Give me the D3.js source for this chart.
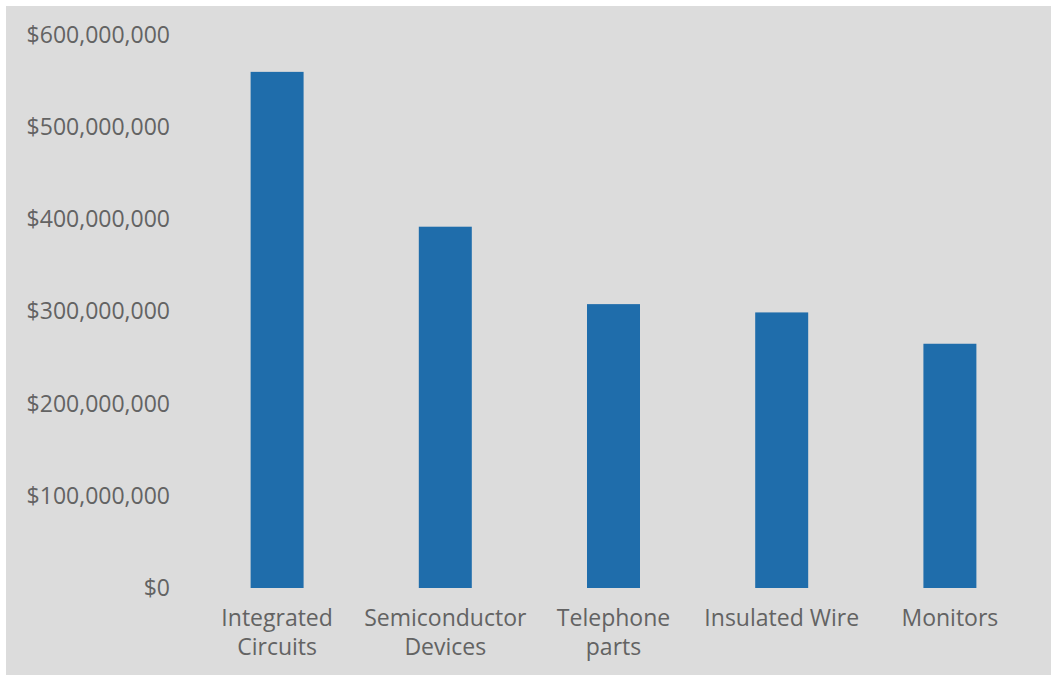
<!DOCTYPE html>
<html><head><meta charset="utf-8">
<script src="https://cdn.jsdelivr.net/npm/d3@7"></script>
<style>
html,body{margin:0;padding:0;background:#fff;}
svg{display:block;}
</style></head>
<body>
<script>
const categories = [["Integrated","Circuits"],["Semiconductor","Devices"],["Telephone","parts"],["Insulated Wire"],["Monitors"]];
const values = [560000000, 392000000, 308000000, 299000000, 265000000];
const yTicks = [0,100000000,200000000,300000000,400000000,500000000,600000000];

const W = 1051, H = 675;
const svg = d3.select("body").append("svg").attr("width", W).attr("height", H);
svg.append("rect").attr("x",6).attr("y",6).attr("width",1045).attr("height",669).attr("fill","#dcdcdc");

const margin = {left:193, right:1034, top:35, bottom:588};
const keys = categories.map(c=>c.join(" "));
const x = d3.scaleBand().domain(keys).range([margin.left, margin.right]).paddingInner(0.685).paddingOuter(0.3425);
const y = d3.scaleLinear().domain([0,600000000]).range([margin.bottom, margin.top]);

svg.selectAll("rect.bar").data(values).enter().append("rect")
  .attr("class","bar")
  .attr("x",(d,i)=>x(keys[i]))
  .attr("width",x.bandwidth())
  .attr("y",d=>y(d))
  .attr("height",d=>y(0)-y(d))
  .attr("fill","#1f6dab");

const fmt = d=> "$" + d3.format(",")(d);
const yAxis = svg.append("g").attr("transform",`translate(${margin.left},0)`)
  .call(d3.axisLeft(y).tickValues(yTicks).tickFormat(fmt).tickSize(0).tickPadding(23));
yAxis.select(".domain").remove();
yAxis.selectAll("text").attr("font-family","'Open Sans', sans-serif").attr("font-size",23).attr("fill","#636363");

const xAxis = svg.append("g").attr("transform",`translate(0,${margin.bottom})`)
  .call(d3.axisBottom(x).tickSize(0).tickFormat(""));
xAxis.select(".domain").remove();
xAxis.selectAll(".tick").each(function(k,i){
  const t = d3.select(this).append("text").attr("fill","#636363")
    .attr("font-family","'Open Sans', sans-serif").attr("font-size",23).attr("text-anchor","middle");
  categories[i].forEach((line,j)=>{
    t.append("tspan").attr("x",0).attr("y",38+ j*29).text(line);
  });
});
</script>
</body></html>
